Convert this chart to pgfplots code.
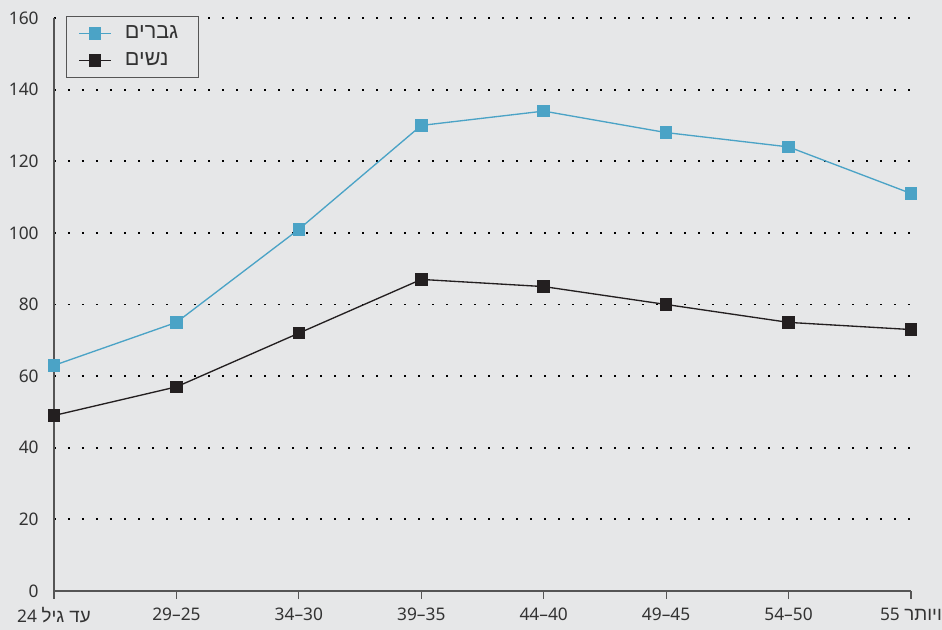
\documentclass[border=0pt]{standalone}
\usepackage{fontspec}
\setmainfont{Noto Sans}
\newfontfamily\hebfont[Script=Hebrew, Scale=1.08]{Liberation Sans}
\TeXXeTstate=1
\usepackage{pgfplots}
\pgfplotsset{compat=1.18}
\usetikzlibrary{backgrounds}
\definecolor{bg}{HTML}{E6E7E8}
\definecolor{men}{HTML}{4BA3C6}
\definecolor{women}{HTML}{231F20}
\definecolor{axisgray}{HTML}{555555}
\definecolor{txt}{HTML}{333333}

\begin{document}
\begin{tikzpicture}
\begin{axis}[
    at={(0,0)}, anchor=south west,
    scale only axis,
    width=642.75pt, height=429.75pt,
    xmin=0, xmax=7, ymin=0, ymax=160,
    xtick={0,...,7},
    xticklabels={
        {24 {\hebfont\beginR עד גיל\endR}},
        29–25, 34–30, 39–35, 44–40, 49–45, 54–50,
        {55 {\hebfont\beginR ויותר\endR}}},
    ytick={20,40,...,160},
    extra y ticks={0},
    extra y tick style={grid=none},
    axis lines*=left,
    axis line style={axisgray, line width=0.9pt},
    tick align=outside,
    major tick length=6pt,
    x tick style={axisgray, line width=0.9pt},
    y tick style={draw=none},
    ymajorgrids,
    grid style={black, line width=1.4pt, dash pattern=on 1.4pt off 9.1pt},
    tick label style={font=\fontsize{13}{15}\selectfont, text=txt},
    x tick label style={yshift=-3pt},
    y tick label style={xshift=-2pt},
    /pgf/number format/assume math mode=true,
    legend style={at={(0.014,1.003)}, anchor=north west,
        draw=axisgray, line width=0.6pt, fill=bg,
        font=\fontsize{15}{17}\selectfont, text=txt,
        inner xsep=9pt, inner ysep=5pt, row sep=5pt,
        nodes={inner xsep=6pt},
        /tikz/every odd column/.append style={column sep=4pt}},
    legend cell align=left,
    legend image code/.code={
        \draw[mark repeat=2, mark phase=2]
        plot coordinates {(0cm,0cm) (0.42cm,0cm) (0.84cm,0cm)};},
]
\addplot[color=men, line width=1pt, mark=square*, mark size=4.2pt,
    mark options={solid, fill=men, draw=men}]
    coordinates {(0,63) (1,75) (2,101) (3,130) (4,134) (5,128) (6,124) (7,111)};
\addlegendentry{\hebfont\beginR גברים\endR}
\addplot[color=women, line width=1pt, mark=square*, mark size=4.2pt,
    mark options={solid, fill=women, draw=women}]
    coordinates {(0,49) (1,57) (2,72) (3,87) (4,85) (5,80) (6,75) (7,73)};
\addlegendentry{\hebfont\beginR נשים\endR}
\end{axis}
\begin{scope}[on background layer]
\fill[bg] (-40.5pt,-29.25pt) rectangle (666pt,443.25pt);
\end{scope}
\pgfresetboundingbox
\path (-40.5pt,-29.25pt) rectangle (666pt,443.25pt);
\end{tikzpicture}
\end{document}
